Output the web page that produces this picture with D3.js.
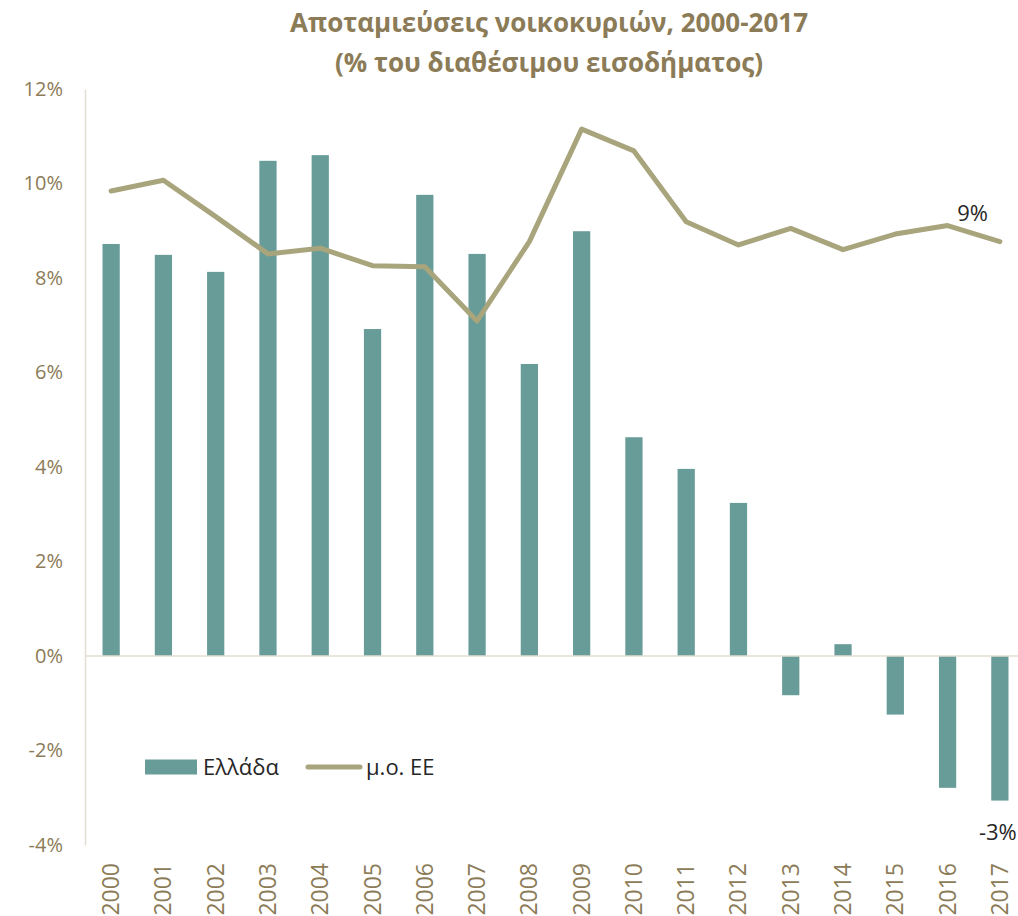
<!DOCTYPE html>
<html>
<head>
<meta charset="utf-8">
<script src="https://cdn.jsdelivr.net/npm/d3@7"></script>
<style>
  html, body { margin: 0; padding: 0; background: #fff; }
  #chart { width: 1018px; height: 916px; }
  text { font-family: "Open Sans", "Noto Sans", sans-serif; }
</style>
</head>
<body>
<div id="chart"></div>
<script>
const years = ["2000", "2001", "2002", "2003", "2004", "2005", "2006", "2007", "2008",
    "2009", "2010", "2011", "2012", "2013", "2014", "2015", "2016", "2017"];

// Ελλάδα (bars)
const greece = [8.72, 8.49, 8.13, 10.48, 10.60, 6.92, 9.76, 8.51, 6.18,
    8.99, 4.63, 3.96, 3.24, -0.83, 0.25, -1.24, -2.79, -3.06];

// μ.ο. ΕΕ (line)
const euAvg = [9.84, 10.07, 9.30, 8.51, 8.63, 8.26, 8.24, 7.09, 8.77,
    11.15, 10.69, 9.19, 8.70, 9.05, 8.60, 8.93, 9.11, 8.77];

const yTicks = [-4, -2, 0, 2, 4, 6, 8, 10, 12];
const titleLines = ["Αποταμιεύσεις νοικοκυριών, 2000-2017", "(% του διαθέσιμου εισοδήματος)"];
const seriesNames = ["Ελλάδα", "μ.ο. ΕΕ"];

const width = 1018;
const height = 916;
const barColor = "#689C99";
const lineColor = "#A8A47C";
const labelColor = "#8B7B57";
const gridColor = "#E2DED3";

const svg = d3.select("#chart")
    .append("svg")
    .attr("width", width)
    .attr("height", height);

const x = d3.scaleBand()
    .domain(years)
    .range([85, 1026])
    .paddingInner(0.67)
    .paddingOuter(0.335);

const y = d3.scaleLinear()
    .domain([-4, 12])
    .range([845, 89]);

// title
svg.append("g")
    .selectAll("text")
    .data(titleLines)
    .join("text")
    .attr("x", 549)
    .attr("y", (d, i) => 32 + i * 40)
    .attr("text-anchor", "middle")
    .attr("font-size", 26)
    .attr("font-weight", "bold")
    .attr("fill", labelColor)
    .text(d => d);

// y axis
const yAxis = svg.append("g")
    .attr("transform", "translate(85,0)")
    .call(d3.axisLeft(y).tickValues(yTicks).tickSize(0).tickPadding(22).tickFormat(d => d + "%"));
yAxis.select(".domain").attr("stroke", gridColor).attr("stroke-width", 1.5);
yAxis.selectAll("text")
    .attr("font-size", 20)
    .attr("fill", labelColor)
    .attr("font-family", "'Open Sans', sans-serif");

// bars
svg.append("g")
    .selectAll("rect")
    .data(greece)
    .join("rect")
    .attr("x", (d, i) => x(years[i]))
    .attr("width", x.bandwidth())
    .attr("y", d => y(Math.max(0, d)))
    .attr("height", d => Math.abs(y(d) - y(0)))
    .attr("fill", barColor);

// zero line
svg.append("line")
    .attr("x1", 85)
    .attr("x2", width)
    .attr("y1", y(0))
    .attr("y2", y(0))
    .attr("stroke", gridColor)
    .attr("stroke-width", 1.5);

// x labels
svg.append("g")
    .selectAll("text")
    .data(years)
    .join("text")
    .attr("transform", d => `translate(${x(d) + x.bandwidth() / 2 + 8},863) rotate(-90)`)
    .attr("text-anchor", "end")
    .attr("font-size", 23)
    .attr("fill", labelColor)
    .text(d => d);

// line
const line = d3.line()
    .x((d, i) => x(years[i]) + x.bandwidth() / 2)
    .y(d => y(d));

svg.append("path")
    .datum(euAvg)
    .attr("d", line)
    .attr("fill", "none")
    .attr("stroke", lineColor)
    .attr("stroke-width", 5)
    .attr("stroke-linecap", "round")
    .attr("stroke-linejoin", "round");

// data labels
const last = years.length - 1;
svg.append("text")
    .attr("x", x(years[last - 1]) + x.bandwidth() / 2 + 25)
    .attr("y", y(euAvg[last - 1]) - 5)
    .attr("text-anchor", "middle")
    .attr("font-size", 22)
    .attr("fill", "#262626")
    .text(Math.round(euAvg[last - 1]) + "%");

svg.append("text")
    .attr("x", x(years[last]) + x.bandwidth() / 2 - 2)
    .attr("y", y(greece[last]) + 39)
    .attr("text-anchor", "middle")
    .attr("font-size", 22)
    .attr("fill", "#262626")
    .text(Math.round(greece[last]) + "%");

// legend
const legend = svg.append("g").attr("transform", "translate(145,767)");
legend.append("rect")
    .attr("x", 0).attr("y", -7.5)
    .attr("width", 52).attr("height", 15)
    .attr("fill", barColor);
legend.append("text")
    .attr("x", 58).attr("y", 8)
    .attr("font-size", 22)
    .attr("fill", "#262626")
    .text(seriesNames[0]);
legend.append("line")
    .attr("x1", 163).attr("x2", 215)
    .attr("y1", 0).attr("y2", 0)
    .attr("stroke", lineColor)
    .attr("stroke-width", 5)
    .attr("stroke-linecap", "round");
legend.append("text")
    .attr("x", 221).attr("y", 8)
    .attr("font-size", 22)
    .attr("fill", "#262626")
    .text(seriesNames[1]);
</script>
</body>
</html>
